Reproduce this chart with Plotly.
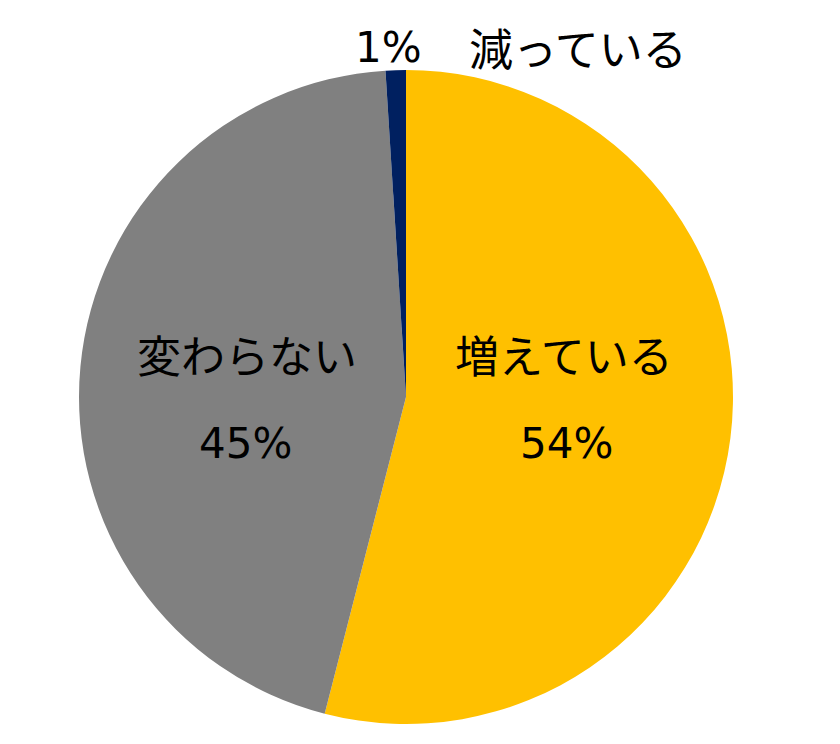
import plotly.graph_objects as go

# Survey answer shares (%)
categories = ["増えている", "変わらない", "減っている"]
shares = [54, 45, 1]
colors = ["#FFC000", "#808080", "#002060"]

W, H = 840, 744
KANA_FONT = "Noto Sans CJK JP, sans-serif"
NUM_FONT = "DejaVu Sans, Noto Sans CJK JP, sans-serif"

# pie centre / radius in pixels
cx, cy, r = 406, 397, 327

fig = go.Figure(
    go.Pie(
        labels=categories,
        values=shares,
        sort=False,
        direction="clockwise",
        rotation=0,
        marker=dict(colors=colors, line=dict(width=0)),
        textinfo="none",
        hoverinfo="label+percent",
        showlegend=False,
        domain=dict(x=[(cx - r) / W, (cx + r) / W], y=[1 - (cy + r) / H, 1 - (cy - r) / H]),
    )
)

def px(x, y):
    return x / W, 1 - y / H

# label anchor points (pixels): name position, value position
label_spots = {
    "増えている": ((564, 354), (566, 443)),
    "変わらない": ((247, 354), (245, 443)),
    "減っている": ((578, 47), (388, 47)),
}

annotations = []
for name, val in zip(categories, shares):
    (nx, ny), (vx, vy) = label_spots[name]
    for text, (x, y), fam, size in (
        (name, (nx, ny), KANA_FONT, 44),
        (f"{val}%", (vx, vy), NUM_FONT, 42),
    ):
        ax, ay = px(x, y)
        annotations.append(
            dict(
                x=ax, y=ay, xref="paper", yref="paper",
                text=text, showarrow=False,
                xanchor="center", yanchor="middle",
                font=dict(family=fam, size=size, color="#000000"),
            )
        )

fig.update_layout(
    width=W,
    height=H,
    margin=dict(l=0, r=0, t=0, b=0),
    paper_bgcolor="white",
    plot_bgcolor="white",
    annotations=annotations,
)

fig.write_html("out.html")
